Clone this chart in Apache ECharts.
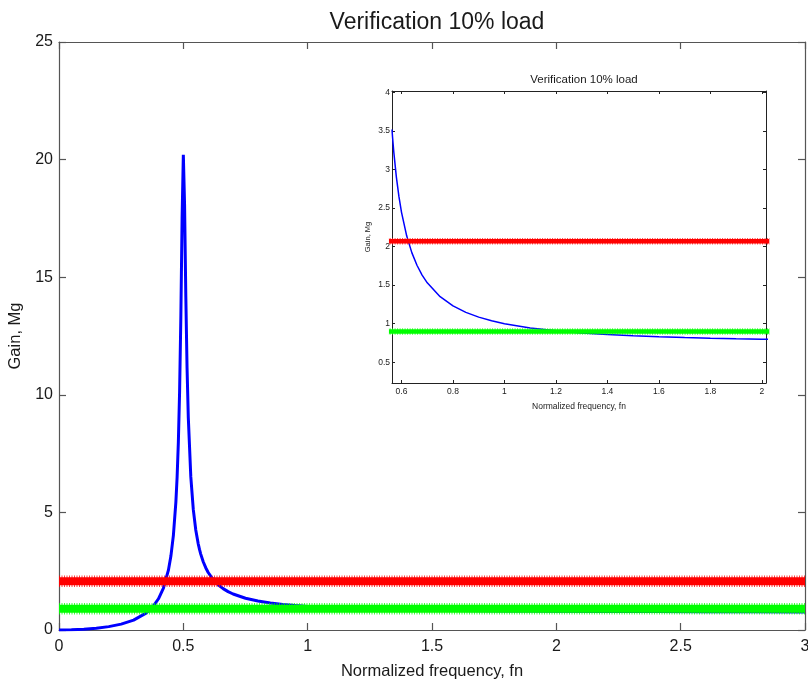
<!DOCTYPE html>
<html>
<head>
<meta charset="utf-8">
<title>Verification 10% load</title>
<script src="https://cdn.jsdelivr.net/npm/echarts@6/dist/echarts.min.js"></script>
<style>
  html, body { margin: 0; padding: 0; background: #fff; }
  #chart { width: 808px; height: 679px; }
</style>
</head>
<body>
<div id="chart"></div>
<script>
// Normalized switching frequency fn and the converter gain Mg at 10% load
const freq = [0, 0.05, 0.1, 0.15, 0.2, 0.25, 0.3, 0.35, 0.38, 0.4,
  0.42, 0.44, 0.45, 0.46, 0.47, 0.475, 0.48, 0.485, 0.49, 0.495,
  0.5, 0.505, 0.51, 0.515, 0.52, 0.53, 0.54, 0.55, 0.56, 0.563, 0.565,
  0.57, 0.58, 0.59, 0.6, 0.62, 0.64, 0.66, 0.68, 0.7, 0.75,
  0.8, 0.85, 0.9, 0.95, 1.0, 1.1, 1.2, 1.3, 1.4, 1.5,
  1.6, 1.7, 1.8, 1.9, 2.0, 2.05, 2.2, 2.4, 2.6, 2.8, 3.0];
const gain = [0, 0.008, 0.031, 0.074, 0.143, 0.250, 0.422, 0.719, 1.023, 1.328,
  1.785, 2.543, 3.143, 4.024, 5.435, 6.503, 7.990, 10.14, 13.31, 17.50,
  20.20, 18.08, 14.18, 11.13, 9.031, 6.521, 5.126, 4.253, 3.658, 3.52, 3.426,
  3.227, 2.903, 2.649, 2.445, 2.140, 1.922, 1.758, 1.631, 1.530, 1.350,
  1.231, 1.147, 1.085, 1.037, 1.000, 0.945, 0.908, 0.880, 0.860, 0.844,
  0.831, 0.821, 0.812, 0.805, 0.799, 0.797, 0.790, 0.783, 0.778, 0.773, 0.770];

// Required gain limits (max and min)
const gainMax = 2.07;
const gainMin = 0.9;
const levelSpan = [0, 3];

// Axis ranges
const mainX = [0, 3];
const mainY = [0, 25];
const insetX = [0.563, 2.016];
const insetY = [0.23, 4.02];

const titleText = 'Verification 10% load';
const xName = 'Normalized frequency, fn';
const yName = 'Gain, Mg';

const curve = freq.map((f, i) => [f, gain[i]]);
// the zoomed view only needs the part of the curve inside its frequency window
const insetCurve = curve.filter(p => p[0] >= insetX[0] - 1e-9);
const maxLine = levelSpan.map(f => [f, gainMax]);
const minLine = levelSpan.map(f => [f, gainMin]);

const FONT = '"Liberation Sans", Arial, sans-serif';
const AXIS_COLOR = '#555';
const TEXT_COLOR = '#1a1a1a';

// label only the round tick values
function niceLabel(step) {
  return v => {
    const k = Math.round(v / step);
    if (Math.abs(v - k * step) > 1e-6) return '';
    return String(+(k * step).toFixed(4));
  };
}

function axisBase(opts) {
  return Object.assign({
    type: 'value',
    axisLine: { show: true, onZero: false, lineStyle: { color: AXIS_COLOR, width: 1.2 } },
    axisTick: { show: true, inside: true, length: 7, lineStyle: { color: AXIS_COLOR, width: 1.2 } },
    splitLine: { show: false },
    nameTextStyle: { color: TEXT_COLOR, fontFamily: FONT }
  }, opts);
}

function bandSeries(data, color, xi, yi, core, edge, z) {
  return [
    {
      type: 'line', data, xAxisIndex: xi, yAxisIndex: yi, symbol: 'none', z,
      lineStyle: { color, width: core }, silent: true, animation: false
    },
    {
      type: 'line', data, xAxisIndex: xi, yAxisIndex: yi, symbol: 'none', z,
      lineStyle: { color, width: edge, type: [1, 1.5], opacity: 0.75 }, silent: true, animation: false
    }
  ];
}

const chart = echarts.init(document.getElementById('chart'), null, { renderer: 'canvas' });

chart.setOption({
  animation: false,
  backgroundColor: '#fff',
  title: [
    {
      text: titleText, left: 432, top: 6, textAlign: 'center',
      textStyle: { fontFamily: FONT, fontSize: 23, fontWeight: 'normal', color: TEXT_COLOR }
    },
    {
      text: titleText, left: 579, top: 69, textAlign: 'center',
      textStyle: { fontFamily: FONT, fontSize: 11.5, fontWeight: 'normal', color: TEXT_COLOR }
    }
  ],
  grid: [
    { left: 59, right: 3, top: 42, bottom: 49, containLabel: false, outerBoundsMode: 'none' },
    { left: 392, right: 42, top: 91, bottom: 296, containLabel: false, outerBoundsMode: 'none',
      show: true, backgroundColor: '#fff', borderWidth: 0, z: 5 }
  ],
  xAxis: [
    axisBase({
      gridIndex: 0, position: 'bottom', min: mainX[0], max: mainX[1], interval: 0.5,
      name: xName, nameLocation: 'middle', nameGap: 33,
      nameTextStyle: { color: TEXT_COLOR, fontFamily: FONT, fontSize: 16.5 },
      axisLabel: { color: TEXT_COLOR, fontFamily: FONT, fontSize: 16, margin: 9 }
    }),
    axisBase({
      gridIndex: 0, position: 'top', min: mainX[0], max: mainX[1], interval: 0.5,
      axisLabel: { show: false }
    }),
    axisBase({
      gridIndex: 1, position: 'bottom', min: insetX[0], max: insetX[1], splitNumber: 7, z: 6,
      name: xName, nameLocation: 'middle', nameGap: 19,
      nameTextStyle: { color: TEXT_COLOR, fontFamily: FONT, fontSize: 8.5 },
      axisLine: { show: true, onZero: false, lineStyle: { color: '#222', width: 1 } },
      axisTick: { show: true, inside: true, length: 3, lineStyle: { color: '#222', width: 1 } },
      axisLabel: { color: TEXT_COLOR, fontFamily: FONT, fontSize: 8.5, margin: 4, formatter: niceLabel(0.2) }
    }),
    axisBase({
      gridIndex: 1, position: 'top', min: insetX[0], max: insetX[1], splitNumber: 7, z: 6,
      axisLine: { show: true, onZero: false, lineStyle: { color: '#222', width: 1 } },
      axisTick: { show: true, inside: true, length: 3, lineStyle: { color: '#222', width: 1 } },
      axisLabel: { show: false }
    })
  ],
  yAxis: [
    axisBase({
      gridIndex: 0, position: 'left', min: mainY[0], max: mainY[1], interval: 5,
      name: yName, nameLocation: 'middle', nameGap: 27,
      nameTextStyle: { color: TEXT_COLOR, fontFamily: FONT, fontSize: 16.5 },
      axisLabel: { color: TEXT_COLOR, fontFamily: FONT, fontSize: 16, margin: 6 }
    }),
    axisBase({
      gridIndex: 0, position: 'right', min: mainY[0], max: mainY[1], interval: 5,
      axisLabel: { show: false }
    }),
    axisBase({
      gridIndex: 1, position: 'left', min: insetY[0], max: insetY[1], splitNumber: 8, z: 6,
      name: yName, nameLocation: 'middle', nameGap: 20,
      nameTextStyle: { color: TEXT_COLOR, fontFamily: FONT, fontSize: 7.5 },
      axisLine: { show: true, onZero: false, lineStyle: { color: '#222', width: 1 } },
      axisTick: { show: true, inside: true, length: 3, lineStyle: { color: '#222', width: 1 } },
      axisLabel: { color: TEXT_COLOR, fontFamily: FONT, fontSize: 8.5, margin: 2, formatter: niceLabel(0.5) }
    }),
    axisBase({
      gridIndex: 1, position: 'right', min: insetY[0], max: insetY[1], splitNumber: 8, z: 6,
      axisLine: { show: true, onZero: false, lineStyle: { color: '#222', width: 1 } },
      axisTick: { show: true, inside: true, length: 3, lineStyle: { color: '#222', width: 1 } },
      axisLabel: { show: false }
    })
  ],
  series: [
    // main plot: gain curve, then the limit bands drawn over it
    {
      type: 'line', data: curve, xAxisIndex: 0, yAxisIndex: 0, symbol: 'none', z: 2,
      lineStyle: { color: '#0000ff', width: 3 }, silent: true
    },
    ...bandSeries(maxLine, '#ff0000', 0, 0, 8, 11.5, 3),
    ...bandSeries(minLine, '#00ff00', 0, 0, 8, 11.5, 3),
    // zoomed inset
    {
      type: 'line', data: insetCurve, xAxisIndex: 2, yAxisIndex: 2, symbol: 'none', z: 7,
      lineStyle: { color: '#0000ff', width: 1.5 }, silent: true
    },
    ...bandSeries(maxLine, '#ff0000', 2, 2, 4.5, 6.5, 8),
    ...bandSeries(minLine, '#00ff00', 2, 2, 4.5, 6.5, 8)
  ]
});
</script>
</body>
</html>
